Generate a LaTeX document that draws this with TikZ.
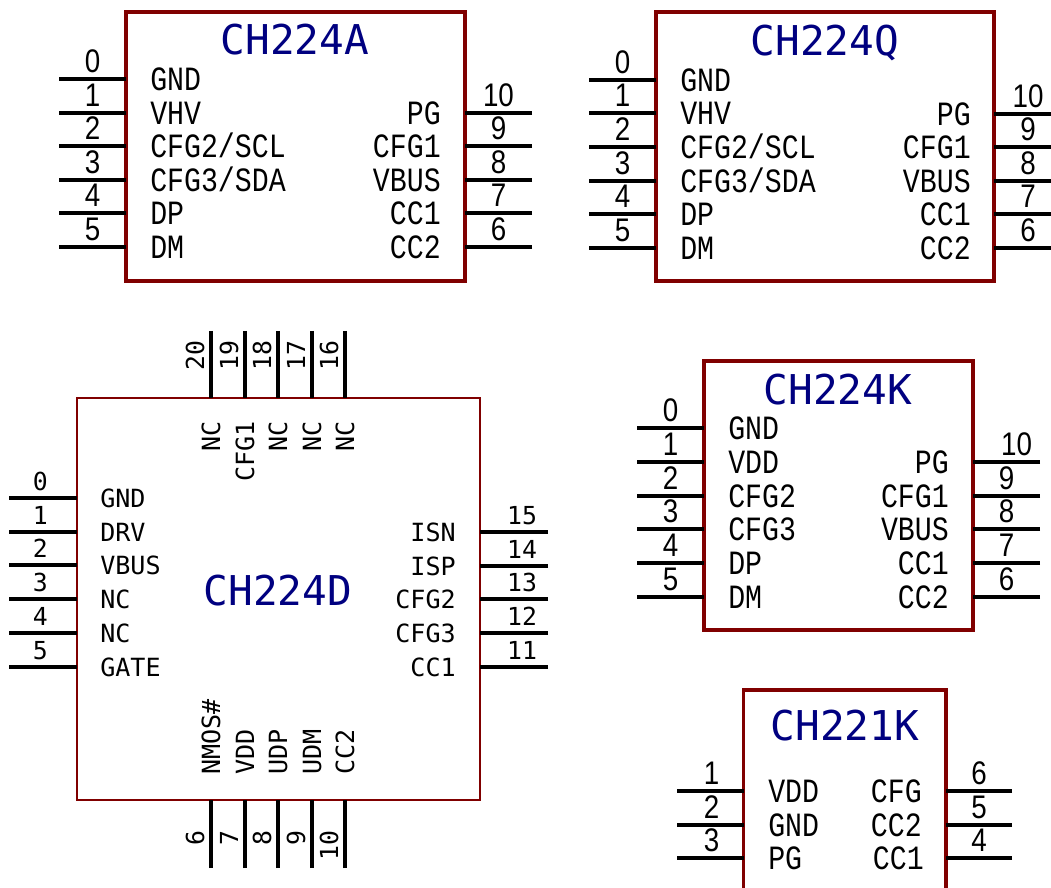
\documentclass[tikz,border=0pt]{standalone}
\usepackage{fontspec}
\setmainfont{Liberation Sans}
\newfontfamily\monof{DejaVu Sans Mono}
\newfontfamily\numf[FakeStretch=0.85]{Liberation Sans}
\newfontfamily\namef[FakeStretch=0.83]{Liberation Mono}
\definecolor{boxred}{HTML}{800000}
\definecolor{titleblue}{HTML}{000080}
\tikzset{
  chip/.style={draw=boxred,line width=2.7pt,fill=white,outer sep=0pt,inner sep=0pt},
  chipthin/.style={chip,line width=2.2pt},
  pinline/.style={draw=black,line width=2.4pt},
  pinnum/.style={anchor=base,inner sep=0pt,yshift=4.7pt,font=\numf\fontsize{24.5}{24.5}\selectfont},
  pinname/.style={inner sep=0pt,yshift=-8.6pt,font=\namef\fontsize{25.5}{25.5}\selectfont},
  title/.style={anchor=base,inner sep=0pt,text=titleblue,font=\monof\fontsize{30.8}{30.8}\selectfont},
}
% \leftpins{prefix}{free x}{label x}{box}{y/num/label list}
\newcommand{\leftpins}[5]{%
  \foreach \yy/\nn/\ll in {#5} {
    \coordinate (#1-\nn) at (#2,\yy);
    \draw[pinline] (#1-\nn) -- node[pinnum] {\nn} (#4.west |- #1-\nn);
    \node[pinname,anchor=base west] (#1-name-\nn) at (#3,\yy) {\ll};
  }}
\newcommand{\rightpins}[5]{%
  \foreach \yy/\nn/\ll in {#5} {
    \coordinate (#1-\nn) at (#2,\yy);
    \draw[pinline] (#1-\nn) -- node[pinnum] {\nn} (#4.east |- #1-\nn);
    \node[pinname,anchor=base east] (#1-name-\nn) at (#3,\yy) {\ll};
  }}
\begin{document}
\begin{tikzpicture}[x=0.75pt,y=-0.75pt]
\useasboundingbox (0,0) rectangle (1051,888);
% CH224A
\node[chip,minimum width=254.25pt,minimum height=201.75pt] (A) at (295.5,146.5) {};
\node[title] (A-title) at (295,55) {CH224A};
\leftpins{a}{59}{150}{A}{79/0/GND,113/1/VHV,146/2/{CFG2/SCL},180/3/{CFG3/SDA},213/4/DP,247/5/DM}
\rightpins{a}{532}{441}{A}{113/10/PG,146/9/CFG1,180/8/VBUS,213/7/CC1,247/6/CC2}
% CH224Q
\node[chip,minimum width=253.5pt,minimum height=201.75pt] (Q) at (825,146.5) {};
\node[title] (Q-title) at (825,56) {CH224Q};
\leftpins{q}{589}{680}{Q}{80/0/GND,113/1/VHV,147/2/{CFG2/SCL},181/3/{CFG3/SDA},214/4/DP,248/5/DM}
\rightpins{q}{1062}{971}{Q}{114/10/PG,147/9/CFG1,181/8/VBUS,214/7/CC1,248/6/CC2}
% CH224K
\node[chip,minimum width=201.75pt,minimum height=201.75pt] (K) at (838.5,495.5) {};
\node[title] (K-title) at (838,405) {CH224K};
\leftpins{k}{637}{728}{K}{428/0/GND,462/1/VDD,496/2/CFG2,529/3/CFG3,563/4/DP,597/5/DM}
\rightpins{k}{1040}{949}{K}{496/9/CFG1,529/8/VBUS,563/7/CC1,597/6/CC2}
\begin{scope}[pinnum/.append style={xshift=7.5pt}]
\rightpins{k}{1040}{949}{K}{462/10/PG}
\end{scope}
% CH221K (cut off by the lower edge of the picture)
\coordinate (L-bl) at (743.5,888);
\coordinate (L-tl) at (743.5,690);
\coordinate (L-tr) at (946,690);
\coordinate (L-br) at (946,888);
\draw[draw=boxred,line width=2.7pt] (L-bl) -- (L-tl) -- (L-tr) -- (L-br);
\node[title] (L-title) at (845,740) {CH221K};
\foreach \yy/\nn/\ll in {791/1/VDD,825/2/GND,858/3/PG} {
  \coordinate (l-\nn) at (677,\yy);
  \draw[pinline] (l-\nn) -- node[pinnum,xshift=1pt] {\nn} (L-tl |- l-\nn);
  \node[pinname,anchor=base west] (l-name-\nn) at (768,\yy) {\ll};
}
\foreach \yy/\nn/\ll/\xx in {791/6/CFG/922,825/5/CC2/922,858/4/CC1/924} {
  \coordinate (l-\nn) at (1012,\yy);
  \draw[pinline] (l-\nn) -- node[pinnum] {\nn} (L-tr |- l-\nn);
  \node[pinname,anchor=base east] (l-name-\nn) at (\xx,\yy) {\ll};
}
% CH224D
\begin{scope}[
  pinnum/.style={anchor=base,inner sep=0pt,yshift=5.5pt,font=\monof\fontsize{18.6}{18.6}\selectfont},
  pinname/.style={inner sep=0pt,yshift=-6.75pt,font=\monof\fontsize{18.8}{18.8}\selectfont},
  vnum/.style={anchor=base east,rotate=90,inner sep=0pt,font=\monof\fontsize{18.6}{18.6}\selectfont},
  vname/.style={rotate=90,inner sep=0pt,font=\monof\fontsize{18.8}{18.8}\selectfont},
]
\node[chipthin,minimum width=302.25pt,minimum height=301.5pt] (D) at (278.5,599) {};
\node[title] (D-title) at (278,605) {CH224D};
\begin{scope}[pinnum/.append style={xshift=-2pt}]
\leftpins{d}{9}{100}{D}{498/0/GND,532/1/DRV,565/2/VBUS,599/3/NC,633/4/NC,667/5/GATE}
\end{scope}
\begin{scope}[pinnum/.append style={xshift=6pt}]
\rightpins{d}{548}{456}{D}{532/15/ISN,566/14/ISP,599/13/CFG2,633/12/CFG3,667/11/CC1}
\end{scope}
\foreach \xx/\nn/\ll in {211/20/NC,245/19/CFG1,278/18/NC,312/17/NC,345/16/NC} {
  \coordinate (d-\nn) at (\xx,331);
  \draw[pinline] (d-\nn) -- (d-\nn |- D.north);
  \node[vnum] (d-num-\nn) at (\xx-7,340) {\nn};
  \node[vname,anchor=base east] (d-name-\nn) at (\xx+9,421) {\ll};
}
\foreach \xx/\nn/\ll in {211/6/{NMOS\#},245/7/VDD,278/8/UDP,312/9/UDM,345/10/CC2} {
  \coordinate (d-\nn) at (\xx,868);
  \draw[pinline] (d-\nn) -- (d-\nn |- D.south);
  \node[vnum] (d-num-\nn) at (\xx-7,830) {\nn};
  \node[vname,anchor=base west] (d-name-\nn) at (\xx+9,775) {\ll};
}
\end{scope}
\end{tikzpicture}
\end{document}
